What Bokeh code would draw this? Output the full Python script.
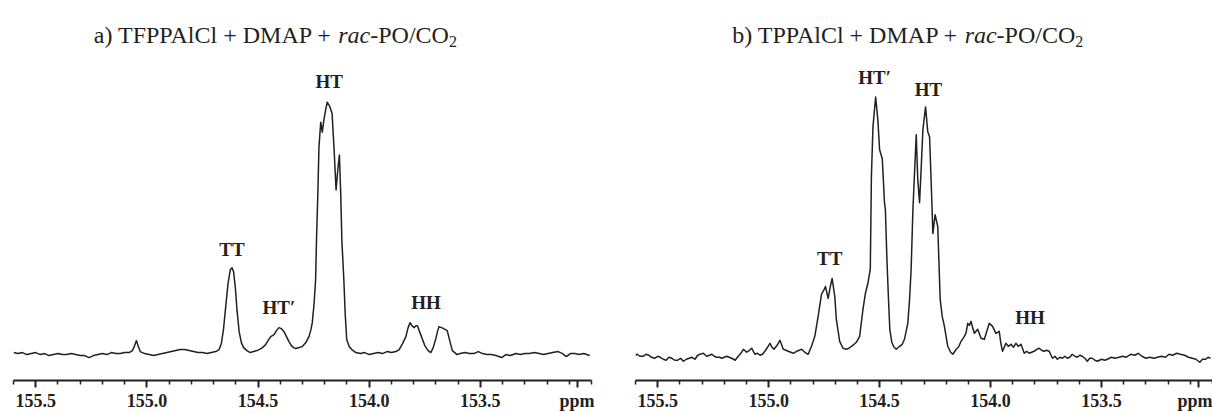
from bokeh.plotting import figure
from bokeh.models import Range1d, FixedTicker, Label
from bokeh.layouts import row
from bokeh.embed import file_html
from bokeh.resources import INLINE

# ---------------- data (13C NMR, carbonate region) ----------------
ppm_a = [155.600, 155.580, 155.560, 155.540, 155.520, 155.500, 155.480, 155.460, 155.440, 155.420,
         155.400, 155.380, 155.360, 155.340, 155.320, 155.300, 155.280, 155.260, 155.240, 155.220,
         155.200, 155.180, 155.160, 155.140, 155.120, 155.100, 155.080, 155.065, 155.055, 155.047,
         155.040, 155.030, 155.010, 154.990, 154.970, 154.950, 154.930, 154.910, 154.890, 154.870,
         154.850, 154.830, 154.810, 154.790, 154.770, 154.750, 154.730, 154.710, 154.690, 154.675,
         154.665, 154.655, 154.645, 154.635, 154.625, 154.617, 154.610, 154.602, 154.594, 154.585,
         154.575, 154.565, 154.550, 154.535, 154.520, 154.505, 154.495, 154.480, 154.466, 154.455,
         154.443, 154.428, 154.417, 154.406, 154.395, 154.383, 154.372, 154.361, 154.350, 154.340,
         154.331, 154.315, 154.301, 154.285, 154.271, 154.262, 154.256, 154.248, 154.241, 154.237,
         154.231, 154.226, 154.218, 154.211, 154.204, 154.196, 154.189, 154.178, 154.167, 154.158,
         154.149, 154.141, 154.134, 154.128, 154.123, 154.114, 154.108, 154.101, 154.090, 154.078,
         154.060, 154.040, 154.020, 154.000, 153.980, 153.960, 153.940, 153.920, 153.900, 153.880,
         153.865, 153.850, 153.835, 153.825, 153.816, 153.808, 153.798, 153.790, 153.783, 153.770,
         153.750, 153.735, 153.723, 153.712, 153.700, 153.693, 153.686, 153.675, 153.665, 153.649,
         153.640, 153.632, 153.626, 153.615, 153.605, 153.590, 153.570, 153.550, 153.530, 153.509,
         153.490, 153.470, 153.450, 153.430, 153.404, 153.385, 153.365, 153.340, 153.320, 153.300,
         153.280, 153.256, 153.235, 153.215, 153.195, 153.175, 153.150, 153.130, 153.113, 153.095,
         153.075, 153.055, 153.035, 153.008]
int_a = [1, 0, 1, -1, 0, 1, -1, 0, -2, -1,
         0, -1, -1, 0, -1, -2, -2, -4, -2, -1,
         0, -1, 1, 0, 0, 1, 1, 3, 8, 13,
         8, 2, 0, -1, -2, -1, 0, 1, 2, 3,
         4, 4, 3, 2, 1, 1, 0, 1, 2, 4,
         10, 25, 48, 70, 84, 86, 82, 66, 42, 22,
         11, 6, 3, 1, 2, 3, 4, 6, 9, 13,
         17, 19, 23, 26, 25, 22, 17, 12, 8, 6,
         5, 6, 7, 11, 17, 24, 31, 50, 74, 114,
         160, 207, 232, 222, 234, 244, 252, 248, 241, 205,
         164, 185, 199, 160, 114, 74, 40, 14, 7, 4,
         1, 0, 1, -1, 0, 1, 0, 2, 1, 2,
         4, 10, 17, 26, 31, 28, 26, 28, 28, 20,
         8, 3, 1, 6, 15, 22, 27, 26, 25, 23,
         15, 8, 3, 1, -1, 0, 1, 0, 0, 2,
         0, -1, -1, -2, -4, -1, -2, 0, -1, 0,
         0, 1, 0, -1, 0, 1, 2, 0, -3, 0,
         0, -1, 0, -2]

ppm_b = [155.600, 155.592, 155.580, 155.566, 155.553, 155.540, 155.527, 155.514, 155.500, 155.488,
         155.475, 155.462, 155.449, 155.436, 155.423, 155.410, 155.397, 155.384, 155.371, 155.358,
         155.345, 155.332, 155.320, 155.309, 155.294, 155.279, 155.267, 155.256, 155.245, 155.234,
         155.222, 155.211, 155.200, 155.189, 155.178, 155.166, 155.151, 155.137, 155.125, 155.114,
         155.099, 155.087, 155.076, 155.062, 155.050, 155.039, 155.028, 155.017, 155.005, 154.994,
         154.985, 154.976, 154.962, 154.949, 154.934, 154.922, 154.912, 154.900, 154.889, 154.874,
         154.862, 154.852, 154.837, 154.822, 154.807, 154.792, 154.777, 154.762, 154.752, 154.744,
         154.738, 154.732, 154.722, 154.714, 154.702, 154.695, 154.680, 154.665, 154.650, 154.638,
         154.627, 154.615, 154.605, 154.590, 154.575, 154.564, 154.553, 154.542, 154.537, 154.530,
         154.518, 154.508, 154.500, 154.488, 154.478, 154.474, 154.467, 154.460, 154.454, 154.445,
         154.435, 154.425, 154.410, 154.398, 154.388, 154.373, 154.365, 154.358, 154.350, 154.335,
         154.328, 154.320, 154.313, 154.305, 154.293, 154.283, 154.275, 154.268, 154.260, 154.250,
         154.238, 154.227, 154.218, 154.208, 154.193, 154.180, 154.170, 154.155, 154.145, 154.133,
         154.121, 154.111, 154.103, 154.096, 154.088, 154.080, 154.073, 154.058, 154.043, 154.028,
         154.017, 154.006, 153.991, 153.976, 153.961, 153.953, 153.946, 153.931, 153.920, 153.908,
         153.897, 153.886, 153.875, 153.863, 153.848, 153.837, 153.826, 153.815, 153.804, 153.792,
         153.781, 153.770, 153.759, 153.748, 153.736, 153.721, 153.710, 153.699, 153.687, 153.676,
         153.665, 153.654, 153.643, 153.632, 153.620, 153.609, 153.598, 153.587, 153.575, 153.564,
         153.553, 153.542, 153.530, 153.519, 153.500, 153.485, 153.474, 153.455, 153.440, 153.421,
         153.405, 153.390, 153.369, 153.350, 153.335, 153.318, 153.300, 153.282, 153.265, 153.248,
         153.230, 153.212, 153.196, 153.180, 153.161, 153.145, 153.126, 153.108, 153.091, 153.075,
         153.057, 153.045, 153.031, 153.020, 153.009]
int_b = [1, 2, 0, 0, 2, 1, -1, -2, 0, -1,
         -3, -4, -1, -2, -4, -4, -2, -5, -3, -2,
         -1, -3, 1, 2, 3, 0, 1, 2, 0, -1,
         -1, -2, -1, 0, -1, -2, -4, 0, 3, 7,
         4, 6, 8, 2, 3, 1, 2, 5, 9, 13,
         9, 7, 11, 16, 7, 6, 5, 4, 3, 5,
         6, 7, 4, 2, 10, 20, 40, 62, 66, 70,
         64, 58, 70, 78, 60, 37, 15, 8, 7, 8,
         10, 12, 14, 20, 47, 63, 73, 87, 180, 230,
         260, 237, 207, 198, 154, 147, 97, 57, 27, 14,
         9, 7, 10, 12, 17, 33, 57, 87, 147, 222,
         177, 154, 187, 227, 250, 225, 220, 177, 123, 142,
         130, 57, 40, 30, 10, 4, 2, 7, 9, 15,
         19, 23, 33, 31, 35, 28, 23, 27, 18, 17,
         25, 33, 30, 23, 25, 12, 5, 13, 10, 12,
         9, 13, 10, 12, 3, 5, 3, 4, 5, 7,
         8, 6, 5, 6, 5, -2, 0, -3, -1, -2,
         0, -2, -1, 2, 0, -1, 1, 0, -2, -5,
         -2, -2, -4, -5, -3, -4, -3, -1, -2, -1,
         0, -1, 2, 1, 3, 0, -2, -1, -2, -1,
         0, -1, 2, 1, 3, 2, 1, -1, -2, -3,
         -6, -3, -3, -1, -2]

major_ticks = [155.5, 155.0, 154.5, 154.0, 153.5]
tick_labels = ["155.5", "155.0", "154.5", "154.0", "153.5"]
minor_ticks = [155.6, 155.4, 155.3, 155.2, 155.1, 154.9, 154.8, 154.7, 154.6,
               154.4, 154.3, 154.2, 154.1, 153.9, 153.8, 153.7, 153.6,
               153.4, 153.3, 153.2, 153.1, 153.0]
unit_label = "ppm"

title_a = [("a) TFPPAlCl + DMAP + ", "normal"), ("rac", "italic"), ("-PO/CO", "normal"), ("2", "sub")]
title_b = [("b) TPPAlCl + DMAP + ", "normal"), ("rac", "italic"), ("-PO/CO", "normal"), ("2", "sub")]

peak_names_a = ["TT", "HT\u2032", "HT", "HH"]
peak_names_b = ["TT", "HT\u2032", "HT", "HH"]

# ---------------- layout / style ----------------
INK = "#231f20"
SERIF = "Liberation Serif"
X_START, X_END = 155.6, 153.0
UNIT_POS = 153.065          # where the "ppm" unit text sits on the axis
BOTTOM = 32
FRAME_H = 413 - BOTTOM
LABEL_PX = 18

# label anchor positions (ppm, intensity units)
peak_pos_a = [(154.617, 104), (154.406, 46.5), (154.180, 272.5), (153.744, 51.5)]
peak_pos_b = [(154.725, 97.7), (154.522, 279.2), (154.280, 267.7), (153.822, 39.2)]

# Times/Liberation Serif advance widths (1/1000 em)
W_REG = {' ': 250, 'a': 444, 'b': 500, ')': 333, 'T': 611, 'F': 556, 'P': 556, 'A': 722,
         'l': 278, 'C': 667, '+': 564, 'D': 722, 'M': 889, 'O': 722, '/': 278, '-': 333, '2': 500}
W_IT = {'r': 389, 'a': 500, 'c': 444}


def text_width(s, size, italic=False):
    tab = W_IT if italic else W_REG
    return sum(tab.get(ch, 500) for ch in s) * size / 1000.0


def make_panel(ppm, inten, base_top, left, right, title_parts, title_px, names, pos):
    p = figure(width=606, height=413, output_backend="svg", toolbar_location=None,
               x_range=Range1d(X_START, X_END), y_range=Range1d(base_top - FRAME_H, base_top),
               y_axis_location=None, min_border_left=left, min_border_right=right,
               min_border_top=0, min_border_bottom=BOTTOM)
    p.outline_line_color = None
    p.xgrid.visible = False
    p.ygrid.visible = False
    p.background_fill_color = "white"
    p.border_fill_color = "white"

    p.line(ppm, inten, line_color=INK, line_width=1.5, line_join="round")

    ax = p.xaxis[0]
    ax.ticker = FixedTicker(ticks=major_ticks + [UNIT_POS], minor_ticks=minor_ticks)
    overrides = {t: s for t, s in zip(major_ticks, tick_labels)}
    overrides[UNIT_POS] = unit_label
    ax.major_label_overrides = overrides
    ax.axis_line_color = INK
    ax.axis_line_width = 2
    ax.major_tick_line_color = INK
    ax.major_tick_line_width = 2
    ax.major_tick_in = 0
    ax.major_tick_out = 7
    ax.minor_tick_line_color = INK
    ax.minor_tick_line_width = 1.5
    ax.minor_tick_in = 0
    ax.minor_tick_out = 4
    ax.major_label_standoff = 3
    ax.major_label_text_font = SERIF
    ax.major_label_text_font_style = "bold"
    ax.major_label_text_font_size = f"{LABEL_PX}px"
    ax.major_label_text_color = INK

    # title (mixed styles)
    px_per_ppm = (606 - left - right) / (X_START - X_END)
    tx = X_START - (title_px - left) / px_per_ppm
    ty = base_top - 35
    off = 0.0
    for txt, style in title_parts:
        if style == "sub":
            size, y, fs = 16, ty - 6, "normal"
        else:
            size, y, fs = 24, ty, style
        p.add_layout(Label(x=tx, y=y, x_offset=off, text=txt, text_align="left",
                           text_baseline="alphabetic", text_font=SERIF, text_font_style=fs,
                           text_font_size=f"{size}px", text_color=INK))
        w = text_width(txt, size, italic=(style == "italic"))
        if txt.endswith(" "):
            w -= 2
        off += w

    for name, (x, y) in zip(names, pos):
        p.add_layout(Label(x=x, y=y, text=name, text_align="center", text_baseline="middle",
                           text_font=SERIF, text_font_style="bold", text_font_size="19px",
                           text_color=INK))
    return p


pa = make_panel(ppm_a, int_a, 354.0, 13, 15, title_a, 93.3, peak_names_a, peak_pos_a)
pb = make_panel(ppm_b, int_b, 356.7, 29, 0, title_b, 731.7 - 606, peak_names_b, peak_pos_b)

layout = row(pa, pb, spacing=0)
open("out.html", "w").write(file_html(layout, INLINE))
